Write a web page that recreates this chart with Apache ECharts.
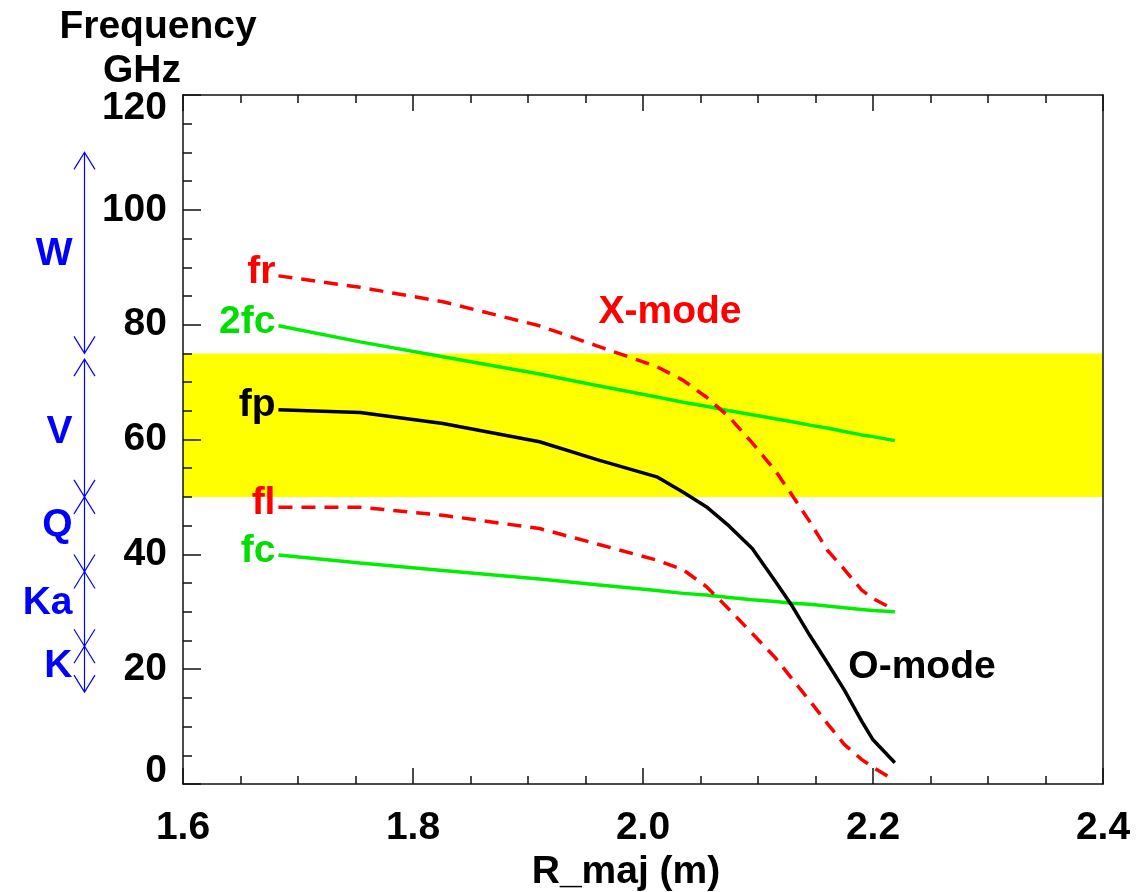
<!DOCTYPE html>
<html>
<head>
    <meta charset="utf-8">
    <title>Cutoff frequencies</title>
    <script src="https://cdn.jsdelivr.net/npm/echarts@6/dist/echarts.min.js"></script>
    <style type="text/css">
        body{margin:0;background:#fff;}
        #main{width:1140px;height:892px;}
    </style>
</head>
<body>
    <div id="main"></div>
    <script type="text/javascript">
        // R_maj (m) sample points shared by all curves
        var rMaj = [1.683, 1.754, 1.826, 1.910, 1.960, 2.012, 2.035, 2.055, 2.075, 2.095, 2.115, 2.130, 2.145, 2.160, 2.175, 2.190, 2.200, 2.219];
        // frequencies in GHz
        var fr  = [88.5, 86.5, 84.0, 79.8, 76.3, 72.7, 70.3, 67.4, 63.9, 59.4, 54.6, 50.2, 45.7, 40.8, 37.4, 33.8, 32.3, 30.3];
        var fc2 = [79.8, 77.0, 74.4, 71.4, 69.4, 67.4, 66.5, 65.8, 65.0, 64.3, 63.6, 63.1, 62.5, 62.0, 61.4, 60.8, 60.5, 59.8];
        var fp  = [65.2, 64.7, 62.8, 59.6, 56.5, 53.5, 50.8, 48.3, 44.9, 41.0, 35.3, 30.9, 25.9, 21.2, 16.4, 11.0, 7.7, 3.7];
        var fl  = [48.2, 48.2, 46.8, 44.5, 41.8, 39.0, 37.3, 34.4, 30.4, 26.2, 22.0, 18.2, 14.5, 10.6, 6.9, 4.3, 2.9, 0.6];
        var fc  = [39.9, 38.5, 37.2, 35.7, 34.7, 33.7, 33.2, 32.9, 32.5, 32.1, 31.8, 31.5, 31.3, 31.0, 30.7, 30.4, 30.2, 30.0];

        // yellow window (GHz)
        var windowLo = 50, windowHi = 75;

        // waveguide bands on the left
        var bandNames  = ['W', 'V', 'Q', 'Ka', 'K'];
        var bandLo     = [75, 50, 37, 24, 16];
        var bandHi     = [110, 74, 50, 37, 24];
        var bandLabelY = [92.3, 61.3, 45, 31.5, 20.5];

        // mode annotations [text, x, y, colour]
        var modeLabels = [['X-mode', 2.0235, 82.2, '#ff0000'], ['O-mode', 2.2426, 20.4, '#000000']];

        var xTicks = [1.6, 2.4, 0.2];
        var yTicks = [0, 120, 20];

        var FONT = 'Liberation Sans';
        var FS = 39;
        var boldFont = 'bold ' + FS + 'px "' + FONT + '"';

        function pairs(ys){
            var out = [];
            for(var i=0;i<rMaj.length;i++){ out.push([rMaj[i], ys[i]]); }
            return out;
        }
        function startLabel(text, ys, color){
            return {
                symbol: 'circle', symbolSize: 0, silent: true,
                data: [{
                    coord: [rMaj[0], ys[0]],
                    label: {show: true, position: 'left', distance: 3, offset: [0, -4], formatter: text,
                            color: color, fontFamily: FONT, fontWeight: 'bold', fontSize: FS}
                }]
            };
        }
        function curve(name, ys, color, dashed, label, labelColor){
            return {
                name: name, type: 'line', data: pairs(ys), symbol: 'none',
                lineStyle: {color: color, width: 3.5, type: dashed ? [14, 9] : 'solid'},
                z: 3,
                markPoint: startLabel(label, ys, labelColor || color)
            };
        }

        var myChart = echarts.init(document.getElementById('main'));

        var series = [
            {
                type: 'line', data: [], xAxisIndex: 0, yAxisIndex: 0, z: 1,
                markArea: {silent: true, itemStyle: {color: '#ffff00'}, data: [[{yAxis: windowLo}, {yAxis: windowHi}]]}
            },
            curve('fc', fc, '#00ee00', false, 'fc', '#00dd00'),
            curve('2fc', fc2, '#00ee00', false, '2fc', '#00dd00'),
            curve('fl', fl, '#ff0000', true, 'fl'),
            curve('fp', fp, '#000000', false, 'fp'),
            curve('fr', fr, '#ff0000', true, 'fr')
        ];
        // X-mode / O-mode annotations
        series[5].markPoint.data.push({
            coord: [modeLabels[0][1], modeLabels[0][2]],
            label: {show: true, position: 'inside', formatter: modeLabels[0][0], color: modeLabels[0][3],
                    fontFamily: FONT, fontWeight: 'bold', fontSize: FS}
        });
        series[4].markPoint.data.push({
            coord: [modeLabels[1][1], modeLabels[1][2]],
            label: {show: true, position: 'inside', formatter: modeLabels[1][0], color: modeLabels[1][3],
                    fontFamily: FONT, fontWeight: 'bold', fontSize: FS}
        });

        // band arrows
        var bandData = [];
        for(var i=0;i<bandNames.length;i++){ bandData.push([bandLo[i], bandHi[i], bandLabelY[i]]); }
        series.push({
            type: 'custom', xAxisIndex: 2, yAxisIndex: 2, silent: true,
            data: bandData,
            renderItem: function(params, api){
                var x = api.coord([0.5, 0])[0];
                var yLo = api.coord([0.5, api.value(0)])[1];
                var yHi = api.coord([0.5, api.value(1)])[1];
                var yLab = api.coord([0.5, api.value(2)])[1];
                var ah = 17, aw = 10.5;
                var st = {stroke: '#0000ff', lineWidth: 1.2, fill: null};
                return {type: 'group', children: [
                    {type: 'line', shape: {x1: x, y1: yHi, x2: x, y2: yLo}, style: st},
                    {type: 'polyline', shape: {points: [[x-aw, yHi+ah], [x, yHi], [x+aw, yHi+ah]]}, style: st},
                    {type: 'polyline', shape: {points: [[x-aw, yLo-ah], [x, yLo], [x+aw, yLo-ah]]}, style: st},
                    {type: 'text', style: {text: bandNames[params.dataIndex], x: x - 12, y: yLab,
                        align: 'right', verticalAlign: 'middle', fill: '#0000ff', font: boldFont}}
                ]};
            }
        });

        var tickStyle = {color: '#111', width: 1.5};
        var axisLine = {show: true, onZero: false, lineStyle: {color: '#111', width: 1.5}};
        var labelRich = {
            mn: {fontFamily: FONT, fontWeight: 'bold', fontSize: FS, color: '#000', lineHeight: 26},
            mx: {fontFamily: FONT, fontWeight: 'bold', fontSize: FS, color: '#000', lineHeight: 26}
        };
        option = {
            animation: false,
            backgroundColor: '#fff',
            grid: [
                {left: 183, right: 37, top: 95, bottom: 108, outerBoundsMode: 'none', containLabel: false},
                {left: 0, width: 169, top: 95, bottom: 108, outerBoundsMode: 'none', containLabel: false}
            ],
            graphic: [
                {type: 'text', style: {text: 'Frequency', x: 158, y: 27, align: 'center', verticalAlign: 'middle',
                    fill: '#000', font: boldFont}},
                {type: 'text', style: {text: 'GHz', x: 142, y: 71, align: 'center', verticalAlign: 'middle',
                    fill: '#000', font: boldFont}}
            ],
            xAxis: [
                {
                    type: 'value', gridIndex: 0, min: xTicks[0], max: xTicks[1], interval: xTicks[2],
                    position: 'bottom', z: 10,
                    axisLine: axisLine,
                    axisTick: {show: true, inside: true, length: 16, lineStyle: tickStyle},
                    minorTick: {show: true, splitNumber: 4, length: 8, lineStyle: tickStyle},
                    splitLine: {show: false},
                    axisLabel: {margin: 25, color: '#000', fontFamily: FONT, fontWeight: 'bold', fontSize: FS,
                        formatter: function(v){ return v.toFixed(1); }},
                    name: 'R_maj (m)', nameLocation: 'middle', nameGap: 67,
                    nameTextStyle: {color: '#000', fontFamily: FONT, fontWeight: 'bold', fontSize: FS, padding: [0, 34, 0, 0]}
                },
                {
                    type: 'value', gridIndex: 0, min: xTicks[0], max: xTicks[1], interval: xTicks[2],
                    position: 'top', z: 10,
                    axisLine: axisLine,
                    axisTick: {show: true, inside: true, length: 16, lineStyle: tickStyle},
                    minorTick: {show: true, splitNumber: 4, length: 8, lineStyle: tickStyle},
                    splitLine: {show: false}, axisLabel: {show: false}
                },
                {type: 'value', gridIndex: 1, min: 0, max: 1, show: false}
            ],
            yAxis: [
                {
                    type: 'value', gridIndex: 0, min: yTicks[0], max: yTicks[1], interval: yTicks[2],
                    position: 'left', z: 10,
                    axisLine: axisLine,
                    axisTick: {show: true, inside: true, length: 18, lineStyle: tickStyle},
                    minorTick: {show: true, splitNumber: 4, length: 9, lineStyle: tickStyle},
                    splitLine: {show: false},
                    axisLabel: {margin: 16, color: '#000', fontFamily: FONT, fontWeight: 'bold', fontSize: FS,
                        verticalAlignMaxLabel: 'top', verticalAlignMinLabel: 'bottom', rich: labelRich,
                        formatter: function(v){
                            if(v === yTicks[0]){ return '{mn|' + v + '}'; }
                            if(v === yTicks[1]){ return '{mx|' + v + '}'; }
                            return '' + v;
                        }}
                },
                {
                    type: 'value', gridIndex: 0, min: yTicks[0], max: yTicks[1], interval: yTicks[2],
                    position: 'right', z: 10,
                    axisLine: axisLine, axisTick: {show: false}, splitLine: {show: false}, axisLabel: {show: false}
                },
                {type: 'value', gridIndex: 1, min: 0, max: 120, show: false}
            ],
            series: series
        };
        myChart.setOption(option);
    </script>
</body>
</html>
